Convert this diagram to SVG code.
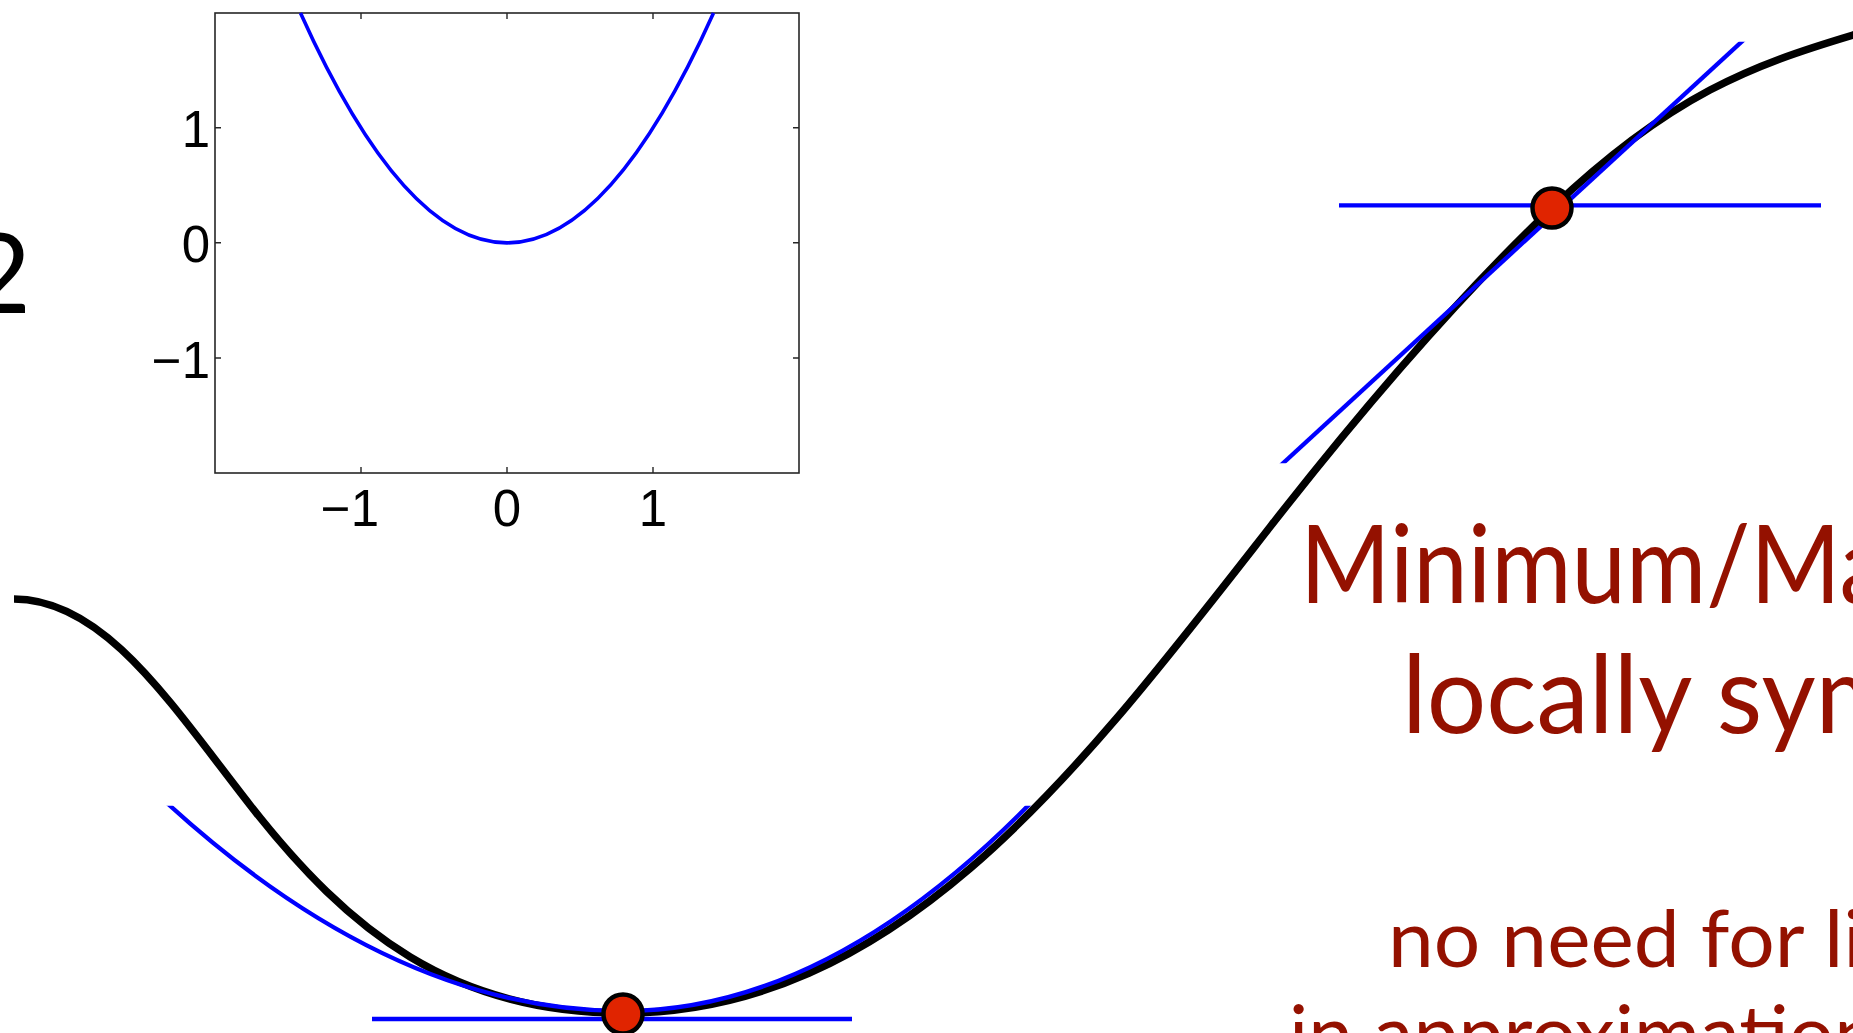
<svg xmlns="http://www.w3.org/2000/svg" width="1853" height="1033" viewBox="0 0 1853 1033">
  <style>
    .axis { fill: none; stroke: #262626; stroke-width: 1.6; }
    .tick { fill: none; stroke: #262626; stroke-width: 1.4; }
    .ticklbl { font-family: "Liberation Sans", Arial, sans-serif; font-size: 51px; fill: #000; }
    .inset-curve { fill: none; stroke: #0000ff; stroke-width: 3.6; }
    .main-curve { fill: none; stroke: #000; stroke-width: 7.5; stroke-linecap: butt; stroke-linejoin: round; }
    .approx { fill: none; stroke: #0000ff; stroke-width: 4.3; stroke-linecap: butt; }
    .pt { fill: #e02400; stroke: #000; stroke-width: 4.5; }
    .title { font-family: Lato, "Open Sans", sans-serif; font-size: 109px; fill: #941100; }
    .sub { font-family: Lato, "Open Sans", sans-serif; font-size: 79px; fill: #941100; }
    .big { font-family: Lato, "Open Sans", sans-serif; font-size: 110px; fill: #000; }
  </style>
  <defs>
    <clipPath id="clipLow"><rect x="0" y="805.7" width="1853" height="228"/></clipPath>
    <clipPath id="clipHigh"><rect x="1200" y="41.7" width="653" height="421.6"/></clipPath>
  </defs>
  <rect width="1853" height="1033" fill="#ffffff"/>

  <g id="label-2">
    <text class="big" x="31" y="313" text-anchor="end">2</text>
  </g>

  <g id="inset-plot">
    <rect class="axis" x="215" y="13" width="584" height="460"/>
    <g class="tick">
      <path d="M361,473 v-6 M507,473 v-6 M653,473 v-6 M361,13 v6 M507,13 v6 M653,13 v6"/>
      <path d="M215,127.7 h6 M215,242.7 h6 M215,358 h6 M799,127.7 h-6 M799,242.7 h-6 M799,358 h-6"/>
    </g>
    <path class="inset-curve" d="M300.5,13 Q507,472.7 713.5,13"/>
    <g class="ticklbl">
      <text x="210" y="147" text-anchor="end">1</text>
      <text x="210" y="262" text-anchor="end">0</text>
      <text x="210" y="378" text-anchor="end">−1</text>
      <text x="379" y="526" text-anchor="end">−1</text>
      <text x="507" y="526" text-anchor="middle">0</text>
      <text x="653" y="526" text-anchor="middle">1</text>
    </g>
  </g>

  <g id="function-curve">
    <path class="main-curve" d="M14,599 C104,599 170,702.6 250,805 C350,933 453,1013 623,1013 C898,1013 1080,770.2 1270,527 C1364,406.7 1458,297.3 1552,208 C1672,94 1753,65 1853,35 L1880,27"/>
  </g>

  <g id="approximations">
    <path class="approx" clip-path="url(#clipLow)" d="M158.3,795 Q390.65,1011 623,1011 Q830.7,1011 1038.4,795"/>
    <line class="approx" x1="372" y1="1019" x2="852" y2="1019"/>
    <line class="approx" clip-path="url(#clipHigh)" x1="1275.7" y1="470" x2="1749" y2="35"/>
    <line class="approx" x1="1339" y1="205.3" x2="1821" y2="205.3"/>
  </g>

  <g id="point-min">
    <circle class="pt" cx="623" cy="1014" r="19.5"/>
  </g>
  <g id="point-inflection">
    <circle class="pt" cx="1552" cy="208" r="19.5"/>
  </g>

  <g id="caption">
    <text class="title" x="1300" y="603" textLength="588" lengthAdjust="spacingAndGlyphs">Minimum/Ma</text>
    <text class="title" x="1402" y="733" textLength="500" lengthAdjust="spacingAndGlyphs">locally sym</text>
    <text class="sub" x="1388" y="967" textLength="475" lengthAdjust="spacingAndGlyphs">no need for li</text>
    <text class="sub" x="1289" y="1062" textLength="590" lengthAdjust="spacingAndGlyphs">in approximation</text>
  </g>
</svg>
